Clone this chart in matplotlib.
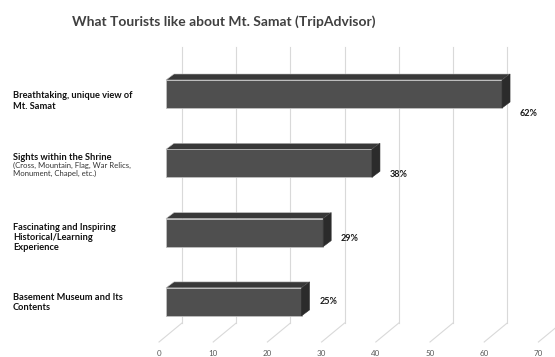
import matplotlib.pyplot as plt
from matplotlib.patches import Polygon

categories = [
    "Breathtaking, unique view of\nMt. Samat",
    "Sights within the Shrine",
    "Fascinating and Inspiring\nHistorical/Learning\nExperience",
    "Basement Museum and Its\nContents",
]
sub_note = "(Cross, Mountain, Flag, War Relics,\nMonument, Chapel, etc.)"
values = [62, 38, 29, 25]
value_labels = ["62%", "38%", "29%", "25%"]
ticks = [0, 10, 20, 30, 40, 50, 60, 70]

# pixel geometry of the original (bar zero at x=166px, 5.42 px per unit, rows 69.3 px apart)
PX = 5.42
ROW = 69.3
x0_px, y0_px = 166, 94
W, H = 555, 357

fig = plt.figure(figsize=(5.55, 3.57), dpi=100)
ax = fig.add_axes([0, 0, 1, 1])
ax.set_xlim(-x0_px / PX, (W - x0_px) / PX)
ax.set_ylim((H - y0_px) / ROW, -y0_px / ROW)
ax.axis("off")

font = ["Lato", "DejaVu Sans"]

# depth offsets
dx_bar, dy_bar = 8 / PX, 6 / ROW
back_shift = 16 / PX
front_shift = -7 / PX
wall_top, floor_back, floor_front = (47 - y0_px) / ROW, (323 - y0_px) / ROW, (342 - y0_px) / ROW
grid_c = "#d9d9d9"

for t in ticks:
    xb = t + back_shift
    if t < 70:
        ax.plot([xb, xb], [wall_top, floor_back], color=grid_c, lw=0.8, zorder=1)
    ax.plot([xb, t + front_shift], [floor_back, floor_front], color=grid_c, lw=0.8, zorder=1)
    ax.text(t + front_shift, (354 - y0_px) / ROW, str(t), ha="center", va="center",
            fontsize=5.8, color="#595959", family=font)

ypos = list(range(len(values)))
h = 28 / ROW
ax.barh(ypos, values, height=h, color="#4f4f4f", edgecolor="#c0c0c0", lw=0.6, zorder=3)
for y, v in zip(ypos, values):
    top = y - h / 2
    bot = y + h / 2
    ax.add_patch(Polygon([(0, top), (v, top), (v + dx_bar, top - dy_bar), (dx_bar, top - dy_bar)],
                         closed=True, fc="#383838", ec="#c0c0c0", lw=0.4, zorder=4))
    ax.add_patch(Polygon([(v, top), (v + dx_bar, top - dy_bar), (v + dx_bar, bot - dy_bar), (v, bot)],
                         closed=True, fc="#2b2b2b", ec="#2b2b2b", lw=0.4, zorder=4))

lab_dy = [19, 11, 5.5, 0]
for y, v, lab, d in zip(ypos, values, value_labels, lab_dy):
    ax.text(v + 3.3, y + d / ROW, lab, ha="left", va="center", fontsize=6.5,
            fontweight="bold", color="#1a1a1a", family=font)

cat_dy = [7, -6, 5, 0.5]
lx = (13 - x0_px) / PX
for y, lab, d in zip(ypos, categories, cat_dy):
    ax.text(lx, y + d / ROW, lab, ha="left", va="center", fontsize=6.7,
            fontweight="bold", color="#111111", family=font, linespacing=1.15)
ax.text(lx, 1 - 1 / ROW, sub_note, ha="left", va="top", fontsize=5.6,
        color="#333333", family=font, linespacing=1.05)

ax.text((224 - x0_px) / PX, (22 - y0_px) / ROW, "What Tourists like about Mt. Samat (TripAdvisor)",
        ha="center", va="center", fontsize=10, fontweight="bold", color="#404040", family=font)

fig.savefig("out.png", dpi=100)
